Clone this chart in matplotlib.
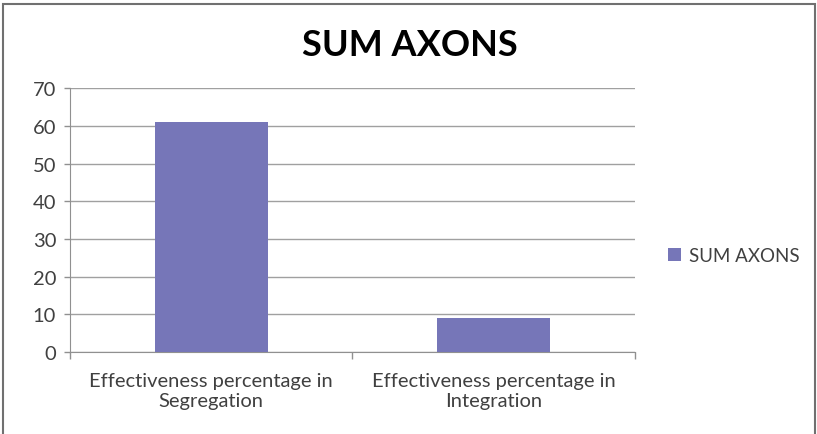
import matplotlib.pyplot as plt
from matplotlib.patches import Rectangle

# data
categories = ["Effectiveness percentage in\nSegregation",
              "Effectiveness percentage in\nIntegration"]
values = [61, 9]
series_name = "SUM AXONS"
y_ticks = [0, 10, 20, 30, 40, 50, 60, 70]

plt.rcParams['font.family'] = ['Lato', 'DejaVu Sans']

fig = plt.figure(figsize=(8.17, 4.35), dpi=100)
ax = fig.add_axes([0.0857, 0.188, 0.691, 0.607])

x = range(len(categories))
ax.bar(x, values, width=0.4, color='#7676B8', label=series_name, zorder=3)

ax.set_xlim(-0.5, len(categories) - 0.5)
ax.set_ylim(0, 70)
ax.set_yticks(y_ticks)
ax.tick_params(axis='y', labelsize=14.5, colors='#404040', length=4, width=1,
               direction='out', pad=6, color='#909090')
ax.yaxis.grid(True, color='#A0A0A0', linewidth=1, zorder=0)

ax.set_xticks(list(x))
ax.set_xticklabels(categories, fontsize=14.5, color='#404040', linespacing=1.25)
ax.tick_params(axis='x', length=0, pad=14)
ax.set_xticks([-0.5, 0.5, 1.5], minor=True)
ax.tick_params(axis='x', which='minor', length=5, width=1, color='#909090')

for side in ['top', 'right']:
    ax.spines[side].set_visible(False)
for side in ['left', 'bottom']:
    ax.spines[side].set_color('#909090')

fig.text(0.502, 0.895, "SUM AXONS", ha='center', va='center',
         fontsize=26, fontweight='bold', color='black')

fig.legend(loc='center left', bbox_to_anchor=(0.797, 0.41), frameon=False,
           fontsize=13.5, handlelength=0.7, handleheight=0.7, handletextpad=0.4,
           labelcolor='#404040')

# outer frame
fig.patches.append(Rectangle((0.004, -0.01), 0.994, 0.999, transform=fig.transFigure,
                             fill=False, edgecolor='#707070', linewidth=1.5))

fig.savefig('out.png', dpi=100)
